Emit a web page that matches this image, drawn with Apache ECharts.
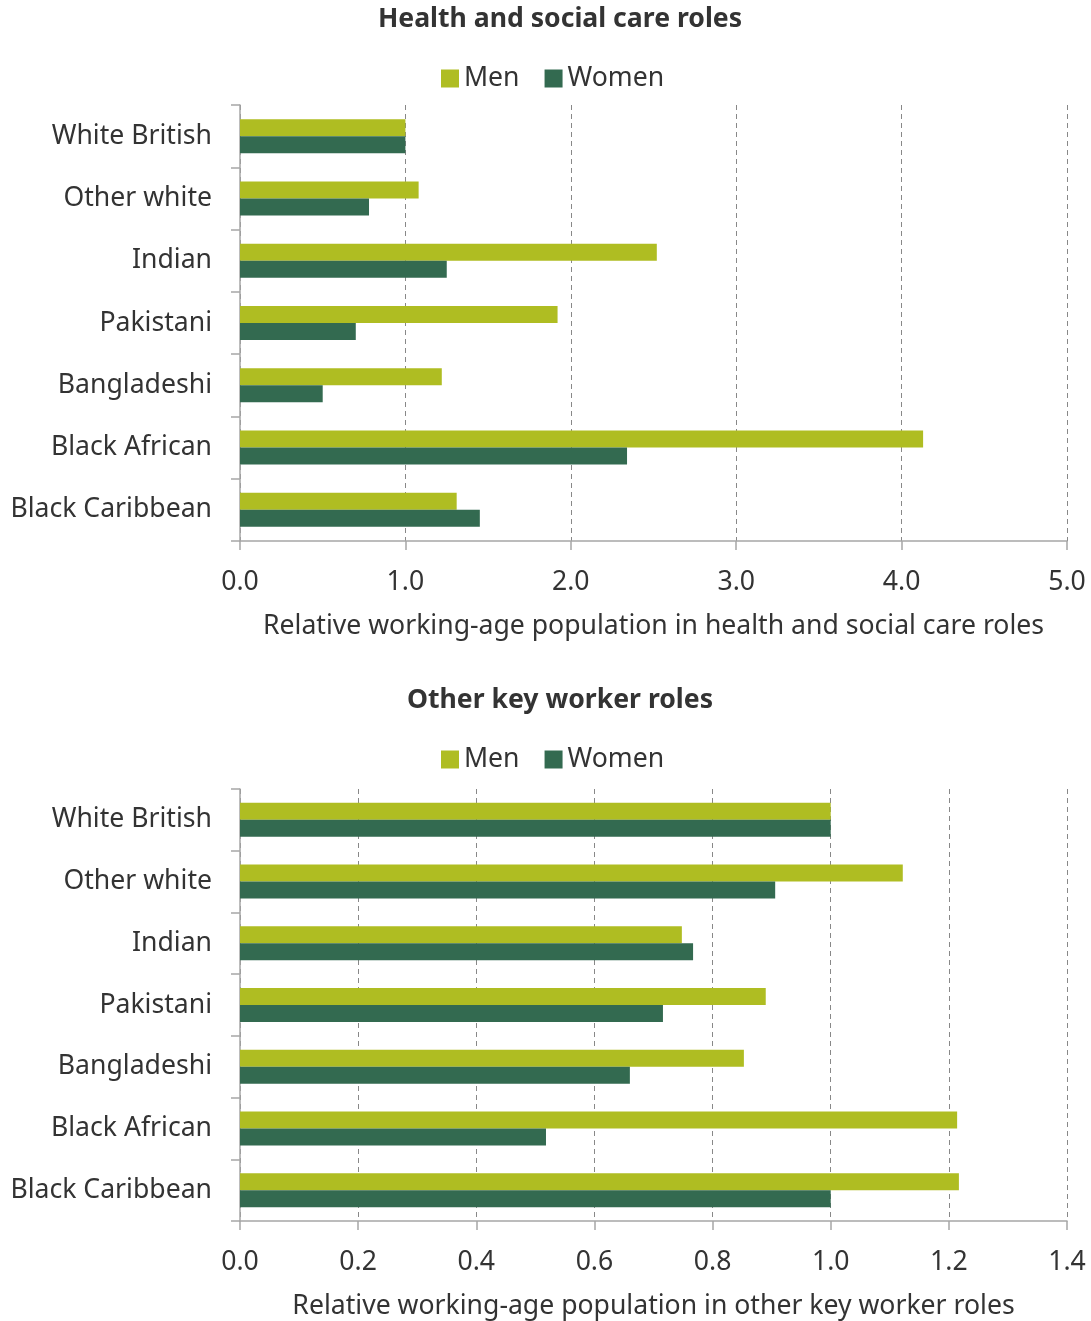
<!DOCTYPE html>
<html><head><meta charset="utf-8">
<script src="https://cdn.jsdelivr.net/npm/echarts@6/dist/echarts.min.js"></script>
<style>html,body{margin:0;padding:0;background:#fff}#c{width:1091px;height:1321px}</style>
</head><body><div id="c"></div>
<script>
const categories = ['White British','Other white','Indian','Pakistani','Bangladeshi','Black African','Black Caribbean'];
const healthMen   = [1.00, 1.08, 2.52, 1.92, 1.22, 4.13, 1.31];
const healthWomen = [1.00, 0.78, 1.25, 0.70, 0.50, 2.34, 1.45];
const otherMen    = [1.00, 1.122, 0.748, 0.890, 0.853, 1.214, 1.217];
const otherWomen  = [1.00, 0.906, 0.767, 0.716, 0.660, 0.518, 1.00];
const titles = ['Health and social care roles','Other key worker roles'];
const xNames = ['Relative working-age population in health and social care roles','Relative working-age population in other key worker roles'];

const FONT = 'Noto Sans';
const FS = 26.6;
const TXT = '#333';
const AX = '#a6a6a6';
const MEN = '#afbd22', WOMEN = '#336a50';

function xAxis(i, max, interval) {
  return {
    type:'value', gridIndex:i, min:0, max:max, interval:interval,
    name:xNames[i], nameLocation:'middle', nameGap:72,
    nameTextStyle:{fontFamily:FONT,fontSize:FS,color:TXT},
    axisLine:{show:true,lineStyle:{color:AX,width:1.5}},
    axisTick:{show:true,length:9,lineStyle:{color:AX,width:1.5}},
    axisLabel:{fontFamily:FONT,fontSize:FS,color:TXT,margin:28,formatter:v=>v.toFixed(1)},
    splitLine:{show:true,lineStyle:{color:'#888',type:[5,4],width:1}}
  };
}
function yAxis(i) {
  return {
    type:'category', gridIndex:i, data:categories, inverse:true,
    axisLine:{show:true,lineStyle:{color:AX,width:1.5}},
    axisTick:{show:true,length:9,lineStyle:{color:AX,width:1.5}},
    axisLabel:{fontFamily:FONT,fontSize:FS,color:TXT,margin:28},
    splitLine:{show:false}
  };
}
function bar(name, data, i, color) {
  return {type:'bar', name:name, data:data, xAxisIndex:i, yAxisIndex:i,
    barWidth:17, barGap:'0%', itemStyle:{color:color}, silent:true, animation:false};
}
function legend(top) {
  return {data:['Men','Women'], left:441, top:top, padding:0, itemWidth:18, itemHeight:18, itemGap:25, icon:'rect',
    textStyle:{fontFamily:FONT,fontSize:FS,color:TXT}};
}
const chart = echarts.init(document.getElementById('c'), null, {renderer:'canvas'});
chart.setOption({
  animation:false,
  title:[
    {text:titles[0], left:555, top:1, textAlign:'center', textStyle:{fontFamily:FONT,fontSize:FS,fontWeight:'bold',color:TXT}},
    {text:titles[1], left:555, top:682, textAlign:'center', textStyle:{fontFamily:FONT,fontSize:FS,fontWeight:'bold',color:TXT}}
  ],
  legend:[legend(65), legend(746)],
  grid:[
    {left:240, width:827, top:105, height:436},
    {left:240, width:827, top:789, height:432}
  ],
  xAxis:[xAxis(0,5,1), xAxis(1,1.4,0.2)],
  yAxis:[yAxis(0), yAxis(1)],
  series:[
    bar('Men', healthMen, 0, MEN), bar('Women', healthWomen, 0, WOMEN),
    bar('Men', otherMen, 1, MEN), bar('Women', otherWomen, 1, WOMEN)
  ]
});
</script></body></html>
